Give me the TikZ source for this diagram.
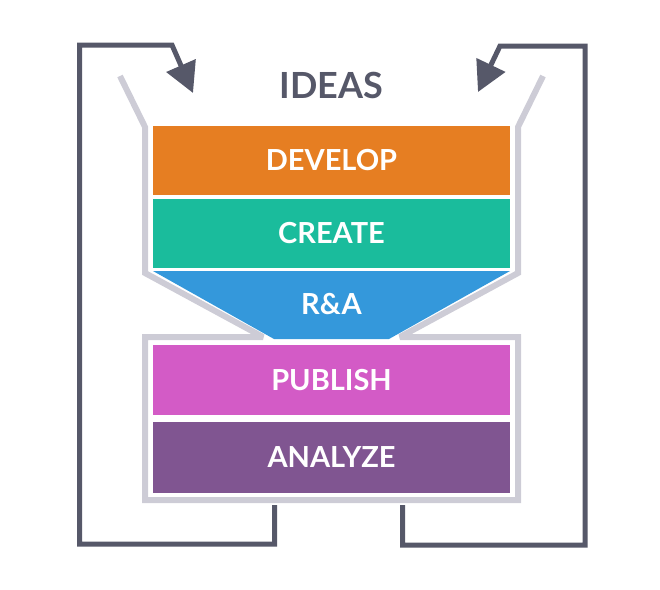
\documentclass[tikz,border=0pt]{standalone}
\usepackage{fontspec}
\setmainfont{Lato}
\usetikzlibrary{arrows.meta}
\definecolor{cDevelop}{HTML}{E67E22}
\definecolor{cCreate}{HTML}{1ABC9C}
\definecolor{cRA}{HTML}{3498DB}
\definecolor{cPublish}{HTML}{D35BC6}
\definecolor{cAnalyze}{HTML}{805591}
\definecolor{funnelgray}{HTML}{CDCCD6}
\definecolor{loopdark}{HTML}{565869}
\tikzset{
  blocco/.style={rectangle,minimum width=357pt,inner sep=0pt,
    text=white,font=\fontsize{29}{29}\selectfont\bfseries},
  ciclo/.style={draw=loopdark,line width=5pt,line join=miter,
    -{Triangle[length=30pt,width=31pt]}},
}
\begin{document}
\begin{tikzpicture}[x=1pt,y=-1pt]
  \useasboundingbox (0,0) rectangle (660,589);
  % imbuto
  \draw[funnelgray,line width=6pt,line join=miter,miter limit=2]
    (120,76) -- (145,127) -- (145,273) -- (263,337) -- (145,337)
    -- (145,500) -- (518,500) -- (518,337) -- (400,337)
    -- (518,273) -- (518,127) -- (543,76);
  % blocchi
  \node[blocco,fill=cDevelop,minimum height=69pt] (develop) at (331.5,160) {DEVELOP};
  \node[blocco,fill=cCreate,minimum height=69pt] (create) at (331.5,233.5) {CREATE};
  \fill[cRA] (153,271) -- (510,271) -- (389,339) -- (274,339) -- cycle;
  \node[text=white,font=\fontsize{29}{29}\selectfont\bfseries] (ra) at (331.5,304) {R\&A};
  \node[blocco,fill=cPublish,minimum height=70pt] (publish) at (331.5,380) {PUBLISH};
  \node[blocco,fill=cAnalyze,minimum height=71pt] (analyze) at (331.5,457.5) {ANALYZE};
  % titolo
  \node[text=loopdark,font=\fontsize{36}{36}\selectfont\bfseries] (ideas) at (331.5,85) {IDEAS};
  % ritorni
  \coordinate (sxbase) at (274.5,505);
  \coordinate (sxtip) at (193,93);
  \coordinate (dxbase) at (402.5,505);
  \coordinate (dxtip) at (478,92);
  \draw[ciclo] (sxbase) -- (274.5,544) -- (79.5,544) -- (79.5,45) -- (172,45) -- (sxtip);
  \draw[ciclo] (dxbase) -- (402.5,545) -- (585,545) -- (585,46) -- (500,46) -- (dxtip);
\end{tikzpicture}
\end{document}
